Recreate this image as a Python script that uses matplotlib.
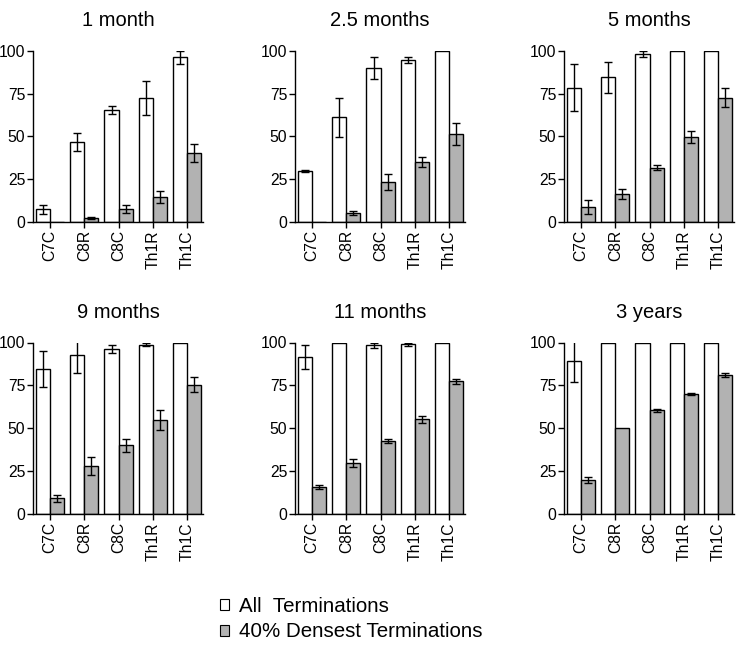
import matplotlib
matplotlib.use("Agg")
from matplotlib import pyplot as plt
from matplotlib.patches import Patch
import numpy as np

plt.rcParams['font.family'] = ['Liberation Sans', 'DejaVu Sans']

categories = ['C7C', 'C8R', 'C8C', 'Th1R', 'Th1C']
titles = ['1 month', '2.5 months', '5 months', '9 months', '11 months', '3 years']

# all terminations (white bars) and their errors
all_vals = [
    [7.4, 46.7, 65.4, 72.6, 96.1],
    [29.8, 61.1, 89.9, 94.6, 100],
    [78.4, 84.4, 98.1, 100, 100],
    [84.5, 93.0, 96.3, 98.8, 100],
    [91.3, 100, 98.4, 99.0, 100],
    [89.1, 100, 100, 100, 100],
]
all_err = [
    [2.7, 5.2, 2.3, 10.0, 3.9],
    [0.8, 11.5, 6.2, 1.7, 0],
    [13.7, 9.0, 1.8, 0, 0],
    [10.3, 10.9, 2.2, 1.0, 0],
    [7.0, 0, 1.5, 0.8, 0],
    [12.3, 0, 0, 0, 0],
]
# 40% densest terminations (gray bars) and their errors
dense_vals = [
    [0, 2.3, 7.8, 14.8, 40.5],
    [0, 5.3, 23.5, 35.2, 51.4],
    [8.6, 16.3, 31.7, 49.8, 72.6],
    [9.1, 27.8, 40.0, 54.8, 75.5],
    [15.7, 29.7, 42.5, 55.3, 77.3],
    [19.7, 50.1, 60.4, 70.0, 81.1],
]
dense_err = [
    [0, 0.8, 2.3, 3.5, 5.3],
    [0, 1.2, 4.7, 2.9, 6.2],
    [4.1, 2.7, 1.4, 3.5, 5.6],
    [2.2, 5.3, 3.9, 5.7, 4.5],
    [1.2, 2.2, 1.2, 2.1, 1.7],
    [1.9, 0, 1.0, 0.8, 1.4],
]

W, H = 738, 647
fig = plt.figure(figsize=(W / 100, H / 100), dpi=100)

lefts = [33, 295, 564]
rows = [(50.7, 222), (342.5, 514)]
gray = '#b2b2b2'
bw = 0.41
x = np.arange(len(categories))

for i in range(6):
    r, c = divmod(i, 3)
    top, bot = rows[r]
    ax = fig.add_axes([lefts[c] / W, (H - bot) / H, 170 / W, (bot - top) / H])
    ax.bar(x - bw / 2, all_vals[i], bw, color='white', edgecolor='black', linewidth=1)
    ax.bar(x + bw / 2, dense_vals[i], bw, color=gray, edgecolor='black', linewidth=1)
    ae = np.array(all_err[i])
    de = np.array(dense_err[i])
    m = ae > 0
    ax.errorbar((x - bw / 2)[m], np.array(all_vals[i])[m], yerr=ae[m], fmt='none',
                ecolor='black', elinewidth=1, capsize=3, capthick=1)
    m = de > 0
    ax.errorbar((x + bw / 2)[m], np.array(dense_vals[i])[m], yerr=de[m], fmt='none',
                ecolor='black', elinewidth=1, capsize=3, capthick=1)
    ax.set_xlim(-0.5, 4.47)
    ax.set_ylim(0, 100)
    ax.set_yticks([0, 25, 50, 75, 100])
    ax.set_xticks(x)
    ax.set_xticklabels(categories, rotation=90)
    ax.tick_params(axis='both', labelsize=11.3, length=4, width=1, direction='out')
    ax.tick_params(axis='x', pad=2)
    ax.tick_params(axis='y', pad=1.5)
    for s in ['top', 'right']:
        ax.spines[s].set_visible(False)
    for s in ['left', 'bottom']:
        ax.spines[s].set_linewidth(1)
    ax.set_title(titles[i], fontsize=14.5, pad=18)

handles = [Patch(facecolor='white', edgecolor='black', linewidth=0.8),
           Patch(facecolor=gray, edgecolor='black', linewidth=0.8)]
fig.legend(handles, ['All  Terminations', '40% Densest Terminations'],
           loc='upper left', bbox_to_anchor=(212 / W, (H - 589) / H),
           frameon=False, fontsize=14.8, handlelength=0.45, handleheight=0.45,
           handletextpad=0.45, labelspacing=0.3, borderaxespad=0)

fig.savefig('out.png', dpi=100)
